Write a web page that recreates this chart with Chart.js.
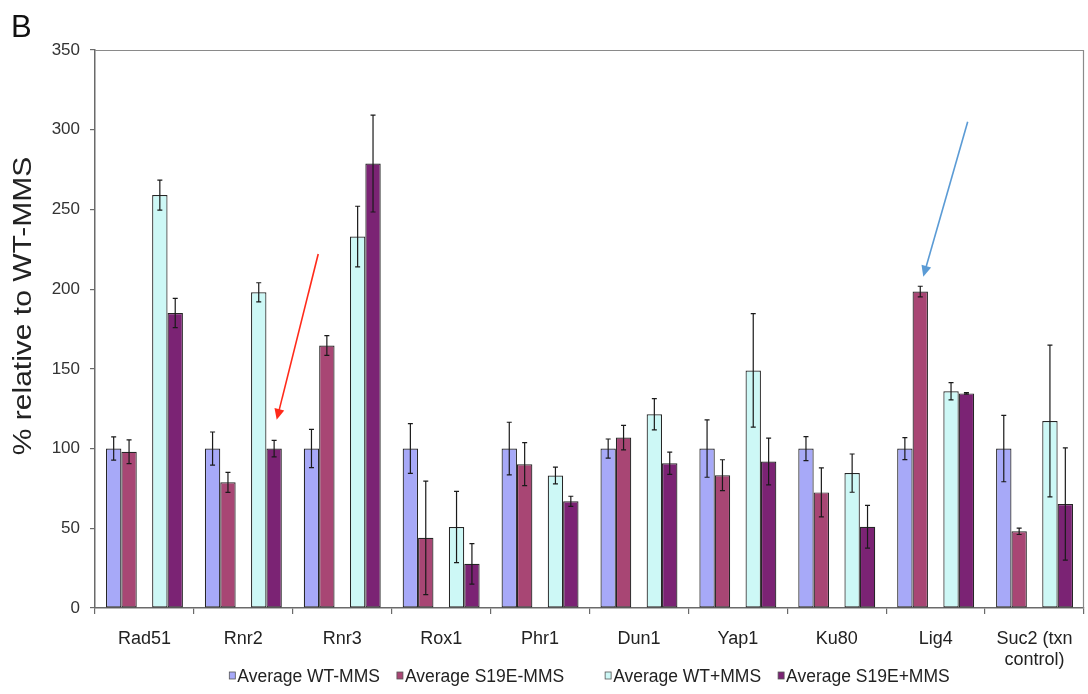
<!DOCTYPE html>
<html>
<head>
<meta charset="utf-8">
<script src="https://cdn.jsdelivr.net/npm/chart.js@4/dist/chart.umd.min.js"></script>
<style>
  html, body { margin: 0; padding: 0; background: #fff; }
  #wrap { width: 1088px; height: 694px; }
</style>
</head>
<body>
<div id="wrap"><canvas id="myChart" width="1088" height="694"></canvas></div>
<script>
// Data
const categories = ['Rad51', 'Rnr2', 'Rnr3', 'Rox1', 'Phr1', 'Dun1', 'Yap1', 'Ku80', 'Lig4', ['Suc2 (txn', 'control)']];
const yTicks = [0, 50, 100, 150, 200, 250, 300, 350];

const wtMinus = [100, 100, 100, 100, 100, 100, 100, 100, 100, 100];
const wtMinusErr = [7.3, 10.4, 12, 15.6, 16.5, 6, 18, 7.5, 6.9, 20.8];
const s19eMinus = [98, 78.8, 164.6, 44, 90.2, 106.9, 83.3, 72.5, 198.5, 48.1];
const s19eMinusErr = [7.4, 6.3, 6.2, 35.6, 13.5, 7.7, 9.7, 15.4, 3.3, 2];
const wtPlus = [259, 198, 233, 50.8, 83.1, 121.5, 149, 84.6, 136, 117.3];
const wtPlusErr = [9.4, 6, 19, 22.4, 5.2, 9.8, 35.6, 12, 5.4, 47.6];
const s19ePlus = [185, 100, 278.8, 27.7, 66.9, 90.8, 91.9, 51, 134.6, 65.2];
const s19ePlusErr = [9.2, 5.2, 30.4, 12.7, 3.2, 7, 14.7, 13.4, 0.5, 35.2];

// arrows drawn on the figure (category index + fraction of a category, value)
const arrows = [
  { cat: 1, fromDx: 0.757, fromY: 222, toDx: 0.337, toY: 118, color: '#ff2a1a' },
  { cat: 8, fromDx: 0.324, fromY: 305, toDx: -0.125, toY: 207.8, color: '#5b9bd5' }
];

const FONT = '"Liberation Sans", Arial, Helvetica, sans-serif';
const AXIS = '#6a6a6a';

(() => {
  'use strict'

  const ctx = document.getElementById('myChart');

  const blank = { label: '', data: categories.map(() => null), backgroundColor: 'rgba(0,0,0,0)', borderWidth: 0, errors: [] };

  const bar = (label, data, errors, color) => ({
    label: label,
    data: data,
    errors: errors,
    backgroundColor: color,
    borderColor: '#262626',
    borderWidth: 1.2,
    borderSkipped: false
  });

  // error bars, arrows, labels and legend
  const extras = {
    id: 'extras',
    afterDatasetsDraw(chart) {
      const c = chart.ctx;
      const y = chart.scales.y;
      const x = chart.scales.x;
      const area = chart.chartArea;

      c.save();
      // frame top / right
      c.strokeStyle = '#8a8a8a';
      c.lineWidth = 1.2;
      c.beginPath();
      c.moveTo(area.left, area.top + 0.5);
      c.lineTo(area.right - 0.5, area.top + 0.5);
      c.lineTo(area.right - 0.5, area.bottom);
      c.stroke();

      // error bars
      c.strokeStyle = '#1a1a1a';
      c.lineWidth = 1.2;
      chart.data.datasets.forEach((ds, i) => {
        if (!ds.errors.length) return;
        chart.getDatasetMeta(i).data.forEach((el, j) => {
          const v = ds.data[j];
          const e = ds.errors[j];
          const hi = y.getPixelForValue(v + e);
          const lo = y.getPixelForValue(v - e);
          c.beginPath();
          c.moveTo(el.x, hi); c.lineTo(el.x, lo);
          c.moveTo(el.x - 2.5, hi); c.lineTo(el.x + 2.5, hi);
          c.moveTo(el.x - 2.5, lo); c.lineTo(el.x + 2.5, lo);
          c.stroke();
        });
      });

      // arrows
      const catW = x.width / categories.length;
      arrows.forEach(a => {
        const x0 = x.getPixelForValue(a.cat) + a.fromDx * catW;
        const y0 = y.getPixelForValue(a.fromY);
        const x1 = x.getPixelForValue(a.cat) + a.toDx * catW;
        const y1 = y.getPixelForValue(a.toY);
        const ang = Math.atan2(y1 - y0, x1 - x0);
        const hl = 11, hw = 5;
        c.strokeStyle = a.color;
        c.fillStyle = a.color;
        c.lineWidth = 1.6;
        c.beginPath();
        c.moveTo(x0, y0);
        c.lineTo(x1 - Math.cos(ang) * hl * 0.8, y1 - Math.sin(ang) * hl * 0.8);
        c.stroke();
        c.beginPath();
        c.moveTo(x1, y1);
        c.lineTo(x1 - Math.cos(ang) * hl - Math.sin(ang) * hw, y1 - Math.sin(ang) * hl + Math.cos(ang) * hw);
        c.lineTo(x1 - Math.cos(ang) * hl + Math.sin(ang) * hw, y1 - Math.sin(ang) * hl - Math.cos(ang) * hw);
        c.closePath();
        c.fill();
      });

      // panel letter
      c.fillStyle = '#111';
      c.font = '31px ' + FONT;
      c.textAlign = 'left';
      c.textBaseline = 'alphabetic';
      c.fillText('B', 11, 37);

      // y axis title (stretched along its length like the source figure)
      c.save();
      c.translate(31, 306);
      c.rotate(-Math.PI / 2);
      c.scale(1.2, 1);
      c.font = '25px ' + FONT;
      c.fillStyle = '#222';
      c.textAlign = 'center';
      c.fillText('% relative to WT-MMS', 0, 0);
      c.restore();

      // legend
      c.font = '17.5px ' + FONT;
      const items = [];
      let w = 0;
      chart.data.datasets.forEach(ds => {
        if (!ds.label) { items.push(null); w += 24; return; }
        const tw = c.measureText(ds.label).width;
        items.push({ ds: ds, tw: tw });
        w += 8 + tw + 17;
      });
      w -= 17;
      let lx = (area.left + area.right) / 2 - w / 2;
      items.forEach(it => {
        if (!it) { lx += 24; return; }
        c.fillStyle = it.ds.backgroundColor;
        c.fillRect(lx, 672, 6, 7);
        c.strokeStyle = '#555';
        c.lineWidth = 0.8;
        c.strokeRect(lx, 672, 6, 7);
        c.fillStyle = '#222';
        c.fillText(it.ds.label, lx + 8, 682);
        lx += 8 + it.tw + 17;
      });
      c.restore();
    }
  };

  // eslint-disable-next-line no-unused-vars
  const myChart = new Chart(ctx, {
    type: 'bar',
    data: {
      labels: categories,
      datasets: [
        bar('Average WT-MMS', wtMinus, wtMinusErr, '#a7a9f8'),
        bar('Average S19E-MMS', s19eMinus, s19eMinusErr, '#a84674'),
        blank,
        bar('Average WT+MMS', wtPlus, wtPlusErr, '#cdf8f6'),
        bar('Average S19E+MMS', s19ePlus, s19ePlusErr, '#7b2374')
      ]
    },
    options: {
      responsive: false,
      animation: false,
      layout: { padding: { left: 0, right: 4, top: 50, bottom: 0 } },
      datasets: { bar: { categoryPercentage: 0.778, barPercentage: 1.0 } },
      scales: {
        x: {
          afterFit: s => { s.height = 86; },
          grid: { offset: true, drawOnChartArea: false, drawTicks: true, tickLength: 6, color: AXIS, lineWidth: 1.2 },
          border: { display: true, color: AXIS, width: 1.5 },
          ticks: { font: { family: FONT, size: 18 }, color: '#222', padding: 14, maxRotation: 0, autoSkip: false }
        },
        y: {
          min: 0,
          max: 350,
          afterFit: s => { s.width = 95; },
          afterBuildTicks: s => { s.ticks = yTicks.map(v => ({ value: v })); },
          grid: { drawOnChartArea: false, drawTicks: true, tickLength: 5, color: AXIS, lineWidth: 1.2 },
          border: { display: true, color: AXIS, width: 1.5 },
          ticks: { font: { family: FONT, size: 17 }, color: '#333', padding: 10 }
        }
      },
      plugins: {
        legend: { display: false },
        tooltip: { enabled: false }
      }
    },
    plugins: [extras]
  })
}
)()
</script>
</body>
</html>
